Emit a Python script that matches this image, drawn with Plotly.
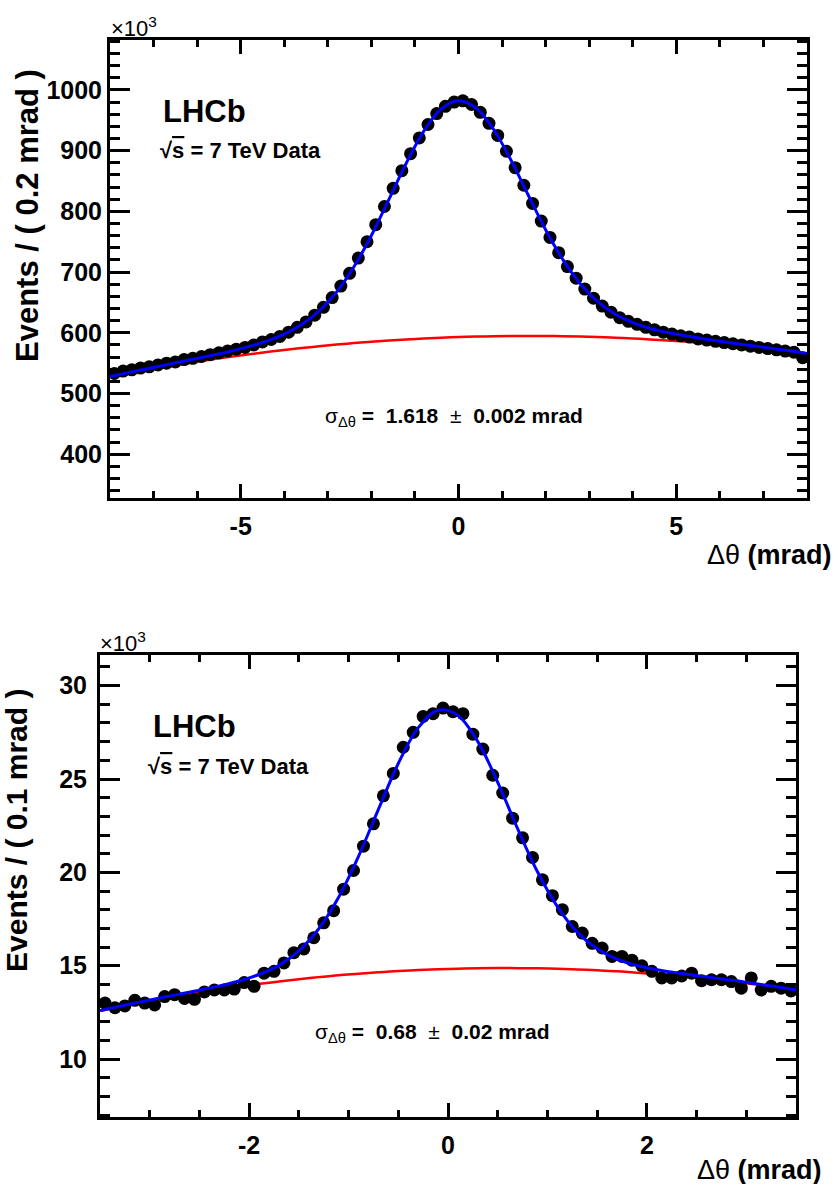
import plotly.graph_objects as go

W, H = 837, 1184
FONT = "Liberation Sans, Arial, Helvetica, sans-serif"

# ---------------- top panel: 0.2 mrad bins (values in units of 10^3) ----------------
top_x = [-7.9, -7.7, -7.5, -7.3, -7.1, -6.9, -6.7, -6.5, -6.3, -6.1,
         -5.9, -5.7, -5.5, -5.3, -5.1, -4.9, -4.7, -4.5, -4.3, -4.1,
         -3.9, -3.7, -3.5, -3.3, -3.1, -2.9, -2.7, -2.5, -2.3, -2.1,
         -1.9, -1.7, -1.5, -1.3, -1.1, -0.9, -0.7, -0.5, -0.3, -0.1,
         0.1, 0.3, 0.5, 0.7, 0.9, 1.1, 1.3, 1.5, 1.7, 1.9,
         2.1, 2.3, 2.5, 2.7, 2.9, 3.1, 3.3, 3.5, 3.7, 3.9,
         4.1, 4.3, 4.5, 4.7, 4.9, 5.1, 5.3, 5.5, 5.7, 5.9,
         6.1, 6.3, 6.5, 6.7, 6.9, 7.1, 7.3, 7.5, 7.7, 7.9]
top_y = [533, 537, 539, 542, 544, 547, 550, 552, 556, 558,
         561, 564, 567, 570, 573, 576, 580, 585, 589, 594,
         601, 609, 618, 629, 642, 658, 677, 698, 723, 750,
         778, 808, 838, 867, 895, 921, 943, 961, 973, 980,
         982, 976, 963, 945, 925, 899, 872, 843, 813, 784,
         757, 732, 709, 690, 672, 657, 644, 634, 625, 619,
         614, 609, 605, 601, 598, 595, 593, 590, 588, 586,
         584, 582, 580, 578, 576, 574, 572, 570, 568, 559]
top_curve_x = [-8.0, -7.6, -7.2, -6.8, -6.4, -6.0, -5.6, -5.2, -4.8, -4.4,
               -4.0, -3.6, -3.2, -2.8, -2.4, -2.0, -1.6, -1.2, -0.8, -0.4,
               0.0, 0.4, 0.8, 1.2, 1.6, 2.0, 2.4, 2.8, 3.2, 3.6,
               4.0, 4.4, 4.8, 5.2, 5.6, 6.0, 6.4, 6.8, 7.2, 7.6, 8.0]
top_fit = [528, 534, 540, 546, 552, 557.7, 563.8, 570.3, 577.6, 586.3,
           597.8, 613.5, 635.9, 667.1, 708.7, 760.3, 819.3, 879.2, 931.8, 968.3,
           982, 970.2, 935.6, 884.9, 826.9, 769.8, 720.1, 680.4, 651.1, 630.6,
           616.8, 607.2, 600.4, 595, 590.4, 586.1, 582.1, 578.2, 574.3, 570.3, 566.1]
top_bkg = [527.0, 532.6, 537.9, 542.9, 547.7, 552.3, 556.7, 560.8, 564.7, 568.3,
           571.8, 574.9, 577.9, 580.6, 583.1, 585.3, 587.3, 589.1, 590.6, 591.9,
           593.0, 593.8, 594.4, 594.8, 594.9, 594.8, 594.5, 593.9, 593.1, 592.0,
           590.8, 589.2, 587.5, 585.5, 583.3, 580.8, 578.1, 575.2, 572.1, 568.7, 565.0]
top_xtick_vals = [-5, 0, 5]
top_xtick_text = ["-5", "0", "5"]
top_ytick_vals = [400, 500, 600, 700, 800, 900, 1000]
top_ytick_text = ["400", "500", "600", "700", "800", "900", "1000"]

# ---------------- bottom panel: 0.1 mrad bins ----------------
bot_x = [-3.45, -3.35, -3.25, -3.15, -3.05, -2.95, -2.85, -2.75, -2.65, -2.55,
         -2.45, -2.35, -2.25, -2.15, -2.05, -1.95, -1.85, -1.75, -1.65, -1.55,
         -1.45, -1.35, -1.25, -1.15, -1.05, -0.95, -0.85, -0.75, -0.65, -0.55,
         -0.45, -0.35, -0.25, -0.15, -0.05, 0.05, 0.15, 0.25, 0.35, 0.45,
         0.55, 0.65, 0.75, 0.85, 0.95, 1.05, 1.15, 1.25, 1.35, 1.45,
         1.55, 1.65, 1.75, 1.85, 1.95, 2.05, 2.15, 2.25, 2.35, 2.45,
         2.55, 2.65, 2.75, 2.85, 2.95, 3.05, 3.15, 3.25, 3.35, 3.45]
bot_y = [13.0, 12.75, 12.85, 13.15, 13.0, 12.9, 13.35, 13.45, 13.25, 13.2,
         13.6, 13.7, 13.7, 13.75, 14.1, 13.9, 14.6, 14.7, 15.15, 15.7,
         15.9, 16.5, 17.3, 17.95, 19.1, 20.1, 21.4, 22.6, 24.1, 25.3,
         26.7, 27.5, 28.35, 28.5, 28.8, 28.6, 28.5, 27.4, 26.6, 25.2,
         24.25, 22.9, 21.85, 20.8, 19.6, 18.75, 18.0, 17.1, 16.75, 16.2,
         15.95, 15.5, 15.5, 15.3, 15.0, 14.7, 14.35, 14.35, 14.45, 14.6,
         14.2, 14.25, 14.25, 14.15, 13.8, 14.35, 13.7, 13.9, 13.8, 13.65]
bot_curve_x = [-3.5, -3.3, -3.1, -2.9, -2.7, -2.5, -2.3, -2.1, -1.9, -1.7,
               -1.5, -1.3, -1.1, -0.9, -0.7, -0.5, -0.3, -0.1, 0.1, 0.3,
               0.5, 0.7, 0.9, 1.1, 1.3, 1.5, 1.7, 1.9, 2.1, 2.3,
               2.5, 2.7, 2.9, 3.1, 3.3, 3.5]
bot_fit = [12.60, 12.83, 13.05, 13.27, 13.48, 13.69, 13.92, 14.18, 14.53, 15.02,
           15.80, 16.98, 18.67, 20.86, 23.37, 25.83, 27.74, 28.68, 28.40, 27.00,
           24.82, 22.34, 20.03, 18.17, 16.80, 15.91, 15.35, 15.01, 14.79, 14.62,
           14.47, 14.33, 14.19, 14.03, 13.88, 13.71]
bot_bkg = [12.57, 12.79, 13.00, 13.20, 13.39, 13.56, 13.73, 13.88, 14.03, 14.16,
           14.28, 14.39, 14.49, 14.57, 14.65, 14.72, 14.77, 14.81, 14.84, 14.87,
           14.88, 14.87, 14.86, 14.84, 14.80, 14.76, 14.70, 14.63, 14.55, 14.46,
           14.36, 14.25, 14.13, 13.99, 13.85, 13.69]
bot_xtick_vals = [-2, 0, 2]
bot_xtick_text = ["-2", "0", "2"]
bot_ytick_vals = [10, 15, 20, 25, 30]
bot_ytick_text = ["10", "15", "20", "25", "30"]


def px(x):
    return x / W


def py(y):
    return 1 - y / H


fig = go.Figure()


def add_panel(xa, ya, dx, dy, cx, fit, bkg, msize):
    fig.add_trace(go.Scatter(x=cx, y=bkg, mode="lines", xaxis=xa, yaxis=ya,
                             line=dict(color="#ff0000", width=2.5, shape="spline"),
                             showlegend=False, hoverinfo="skip"))
    fig.add_trace(go.Scatter(x=dx, y=dy, mode="markers", xaxis=xa, yaxis=ya,
                             marker=dict(color="black", size=msize),
                             cliponaxis=False, showlegend=False))
    fig.add_trace(go.Scatter(x=cx, y=fit, mode="lines", xaxis=xa, yaxis=ya,
                             line=dict(color="#0000ff", width=3, shape="spline"),
                             showlegend=False, hoverinfo="skip"))


add_panel("x", "y", top_x, top_y, top_curve_x, top_fit, top_bkg, 13)
add_panel("x2", "y2", bot_x, bot_y, bot_curve_x, bot_fit, bot_bkg, 13)

tickfont = dict(family=FONT, size=25, color="black", weight="bold")


def xaxis(domain, anchor, rng, vals, text, minor_dtick):
    return dict(domain=domain, anchor=anchor, range=rng, tickmode="array",
                tickvals=vals, ticktext=text, ticks="inside", ticklen=14,
                tickwidth=3, tickcolor="black", showline=True, linewidth=3,
                linecolor="black", mirror="ticks", showgrid=False,
                zeroline=False, tickfont=tickfont, ticklabelstandoff=4,
                minor=dict(ticks="inside", ticklen=7, tickwidth=2.5,
                           tickcolor="black", dtick=minor_dtick, tick0=0,
                           showgrid=False))


def yaxis(domain, anchor, rng, vals, text, minor_dtick, standoff):
    return dict(domain=domain, anchor=anchor, range=rng, tickmode="array",
                tickvals=vals, ticktext=text, ticks="inside", ticklen=20,
                tickwidth=3, tickcolor="black", showline=True, linewidth=3,
                linecolor="black", mirror="ticks", showgrid=False,
                zeroline=False, tickfont=tickfont, ticklabelstandoff=standoff,
                minor=dict(ticks="inside", ticklen=10, tickwidth=2.5,
                           tickcolor="black", dtick=minor_dtick, tick0=0,
                           showgrid=False))


fig.update_layout(
    width=W, height=H, margin=dict(l=0, r=0, t=0, b=0),
    paper_bgcolor="white", plot_bgcolor="white",
    xaxis=xaxis([px(110), px(807)], "y", [-8, 8], top_xtick_vals, top_xtick_text, 1),
    yaxis=yaxis([py(498), py(39.5)], "x", [328, 1083], top_ytick_vals, top_ytick_text, 20, 0),
    xaxis2=xaxis([px(100), px(796)], "y2", [-3.5, 3.5], bot_xtick_vals, bot_xtick_text, 0.5),
    yaxis2=yaxis([py(1117), py(655)], "x2", [6.9, 31.64], bot_ytick_vals, bot_ytick_text, 1, 5),
)


def ann(text, x, y, size, xanchor="left", yanchor="middle", angle=0, bold=False):
    fig.add_annotation(text=text, x=px(x), y=py(y), xref="paper", yref="paper",
                       xanchor=xanchor, yanchor=yanchor, showarrow=False,
                       textangle=angle,
                       font=dict(family=FONT, size=size, color="black",
                                 weight="bold" if bold else "normal"))


sqrt_s = '√<span style="text-decoration:overline">s</span> = 7 TeV Data'

# top panel texts
ann("×10<sup>3</sup>", 109, 27, 22)
ann("Events / ( 0.2 mrad )", 27, 216, 31, xanchor="center", angle=-90, bold=True)
ann("LHCb", 161, 111, 31, bold=True)
ann(sqrt_s, 158, 150, 22, bold=True)
ann("σ<sub>Δθ</sub><b> =  1.618 </b> ± <b> 0.002 mrad</b>", 323, 417, 21)
ann("Δθ <b>(mrad)</b>", 834, 555, 27, xanchor="right")

# bottom panel texts
ann("×10<sup>3</sup>", 98, 642, 22)
ann("Events / ( 0.1 mrad )", 16, 831, 30, xanchor="center", angle=-90, bold=True)
ann("LHCb", 151, 726, 31, bold=True)
ann(sqrt_s, 146, 766, 22, bold=True)
ann("σ<sub>Δθ</sub><b> =  0.68 </b> ± <b> 0.02 mrad</b>", 313, 1033, 21)
ann("Δθ <b>(mrad)</b>", 824, 1170, 27, xanchor="right")

fig.write_html("out.html", config={"displayModeBar": False},
               post_script="document.body.style.margin='0';")
